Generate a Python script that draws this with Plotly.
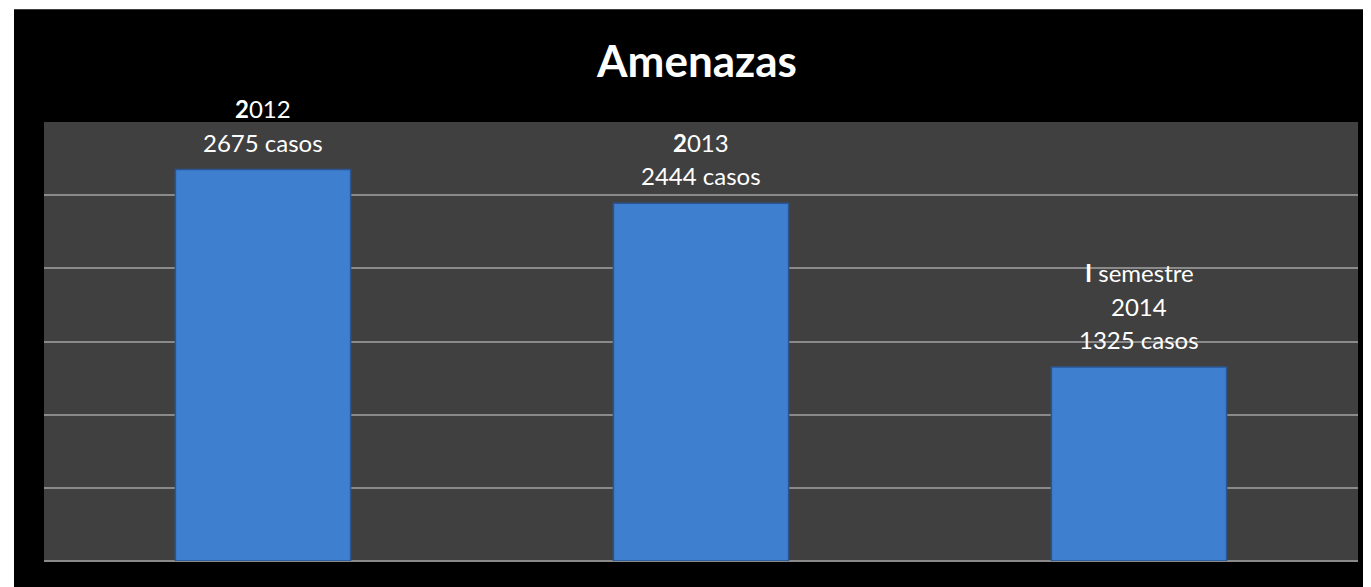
import plotly.graph_objects as go

categories = ["2012", "2013", "I semestre 2014"]
values = [2675, 2444, 1325]
label_lines = [
    ["<b>2</b>012", "2675 casos"],
    ["<b>2</b>013", "2444 casos"],
    ["<b>I</b> semestre", "2014", "1325 casos"],
]
title_text = "<b>Amenazas</b>"

# page body has an 8px margin, so the figure is shifted by 8px
OFF = 8
W, H = 1371 - OFF, 587 - OFF
ml, mr, mt, mb = 44 - OFF, 13, 122 - OFF, 25.5
pw = W - ml - mr
ph = H - mt - mb

fig = go.Figure()
fig.add_trace(go.Bar(
    x=categories, y=values,
    marker=dict(color="#3e7fcf", line=dict(color="#2a5592", width=1.5)),
    hoverinfo="skip",
))

annotations = []
line_h = 33.5
for idx, (val, lines) in enumerate(zip(values, label_lines)):
    for i, txt in enumerate(reversed(lines)):
        annotations.append(dict(
            x=idx, y=val, xref="x", yref="y", text=txt, showarrow=False,
            yanchor="middle", xanchor="center", yshift=27.5 + i * line_h,
            font=dict(family="Lato, Carlito, sans-serif", size=24, color="white"),
        ))

shapes = [
    dict(type="rect", xref="paper", yref="paper", layer="below",
         x0=(14 - OFF - ml) / pw, x1=(W - ml + 2) / pw,
         y0=-(mb + 2) / ph, y1=(H - mb - (9 - OFF)) / ph,
         fillcolor="black", line=dict(width=0)),
    dict(type="rect", xref="paper", yref="paper", layer="below",
         x0=0, x1=1, y0=0, y1=1,
         fillcolor="#404040", line=dict(width=0)),
]

fig.update_layout(
    width=W, height=H,
    margin=dict(l=ml, r=mr, t=mt, b=mb, pad=0),
    paper_bgcolor="white",
    plot_bgcolor="rgba(0,0,0,0)",
    showlegend=False,
    bargap=0.6,
    title=dict(text=title_text, x=(697 - OFF) / W, xanchor="center", xref="container",
               y=1 - (62 - OFF) / H, yanchor="middle", yref="container",
               font=dict(family="Lato, Carlito, sans-serif", size=44, color="white")),
    xaxis=dict(type="category", range=[-0.5, len(categories) - 0.5],
               showticklabels=False, showgrid=False, zeroline=False,
               showline=False, ticks="", fixedrange=True),
    yaxis=dict(range=[0, 3000], dtick=500, tick0=0, showticklabels=False,
               showgrid=True, gridcolor="#8a8a8a", gridwidth=2,
               zeroline=True, zerolinecolor="#8a8a8a", zerolinewidth=2,
               showline=False, ticks="", fixedrange=True),
    annotations=annotations,
    shapes=shapes,
)

fig.write_html("out.html")
